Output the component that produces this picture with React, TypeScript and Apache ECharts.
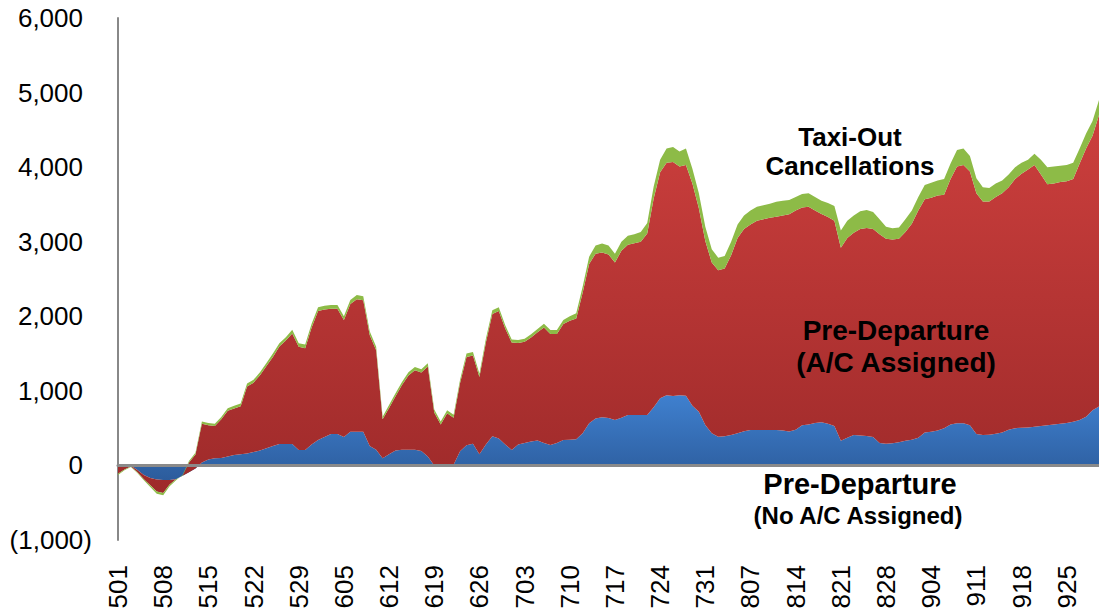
import React, { useEffect, useRef } from "react";
import * as echarts from "echarts";

const FONT = '"Liberation Sans", Arial, Helvetica, sans-serif';

// Categories: daily dates May 1 .. Sep 30 shown as "mdd"
const MONTHS = [5, 6, 7, 8, 9];
const MONTH_DAYS = [31, 30, 31, 31, 30];
const categories: string[] = [];
MONTHS.forEach((m, k) => {
  for (let d = 1; d <= MONTH_DAYS[k]; d++) categories.push(`${m}${d < 10 ? "0" + d : d}`);
});

const Y_MIN = -1000;
const Y_MAX = 6000;
const Y_STEP = 1000;

// Pre-Departure (No A/C Assigned)
const preDepNoAC = [
  0, 0, -5, -60, -130, -170, -190, -195, -195, -185, -140, -90, -40, 40, 80,
  95, 100, 120, 140, 150, 160, 180, 200, 230, 260, 288, 288, 288, 208, 208, 280,
  340, 380, 420, 420, 380, 450, 453, 453, 260, 210, 96, 150, 200, 210, 210, 210, 195, 120, 0, 0,
  20, 10, 190, 270, 290, 150, 280, 390, 360, 280,
  208, 280, 300, 320, 333, 300, 275, 300, 342, 345, 350, 430, 565, 630, 646, 635, 610, 640, 677, 677,
  677, 677, 780, 900, 940, 930, 940, 935, 800, 720, 543,
  430, 386, 390, 409, 430, 460, 476, 476, 476, 476, 476, 470, 455, 480, 540, 550, 570, 580, 560, 530,
  330, 370, 409, 400, 395, 380, 300, 290, 297, 310, 330,
  345, 370, 440, 450, 470, 498, 550, 565, 565, 540, 420, 409, 410, 425, 440, 480, 500, 505, 510, 520,
  530, 540, 550, 560, 570, 587, 610, 654, 740, 790,
];

// Pre-Departure (A/C Assigned)
const preDepAC = [
  -112, -55, -10, -30, -55, -95, -160, -175, -60, 0, 0, 130, 185, 520, 460,
  435, 520, 612, 625, 645, 900, 930, 1010, 1104, 1195, 1307, 1387, 1482, 1382, 1362, 1570,
  1730, 1710, 1680, 1680, 1570, 1715, 1777, 1762, 1490, 1335, 523, 620, 728, 870, 995, 1065, 1050, 1205, 710, 550,
  680, 630, 915, 1185, 1185, 1035, 1370, 1640, 1710, 1555,
  1442, 1362, 1360, 1395, 1452, 1550, 1486, 1461, 1553, 1595, 1620, 1890, 2135, 2210, 2209, 2195, 2110, 2240, 2283, 2303,
  2323, 2433, 2800, 3030, 3120, 3140, 3070, 3095, 2980, 2730, 2467,
  2290, 2230, 2250, 2411, 2620, 2710, 2754, 2804, 2824, 2844, 2860, 2880, 2914, 2940, 2920, 2920, 2850, 2790, 2770, 2750,
  2590, 2680, 2711, 2770, 2790, 2790, 2800, 2750, 2733, 2730, 2800,
  2895, 3050, 3130, 3140, 3150, 3132, 3290, 3445, 3465, 3400, 3230, 3131, 3130, 3175, 3210, 3250, 3340, 3405, 3460, 3510,
  3370, 3230, 3230, 3240, 3240, 3253, 3440, 3596, 3680, 3910,
];

// Taxi-Out Cancellations
const taxiOut = [
  -15, -10, -5, -10, -15, -25, -30, -30, -25, -15, 10, 20, 25, 30, 30,
  30, 30, 35, 35, 35, 40, 40, 40, 40, 45, 45, 45, 50, 50, 50, 50,
  50, 50, 50, 50, 50, 55, 55, 55, 50, 45, 35, 40, 40, 40, 45, 45, 45, 45, 40, 40,
  40, 40, 45, 45, 45, 45, 50, 50, 50, 45,
  40, 40, 40, 45, 45, 50, 55, 55, 55, 60, 70, 80, 100, 110, 120, 120, 120, 120, 120, 120,
  130, 140, 160, 170, 190, 200, 200, 220, 200, 200, 190,
  180, 170, 170, 180, 180, 180, 190, 190, 190, 190, 200, 200, 190, 180, 180, 180, 180, 180, 190, 200,
  230, 230, 230, 240, 240, 230, 200, 160, 150, 150, 170,
  180, 180, 190, 200, 200, 210, 210, 220, 220, 210, 200, 190, 180, 180, 170, 170, 160, 150, 130, 150,
  200, 230, 230, 220, 220, 220, 200, 200, 200, 200,
];

const fmt = (n: number) => String(n).replace(/\B(?=(\d{3})+(?!\d))/g, ",");

export default function App() {
  const ref = useRef<HTMLDivElement>(null);

  useEffect(() => {
    if (!ref.current) return;
    const chart = echarts.init(ref.current, null, { renderer: "svg" });
    const lg = (a: string, b: string) =>
      new echarts.graphic.LinearGradient(0, 0, 0, 1, [
        { offset: 0, color: a },
        { offset: 1, color: b },
      ]);
    const areaSeries = (name: string, data: number[], fill: any) => ({
      name,
      type: "line",
      stack: "total",
      stackStrategy: "all",
      xAxisIndex: 0,
      yAxisIndex: 0,
      data,
      symbol: "none",
      showSymbol: false,
      smooth: false,
      lineStyle: { width: 0 },
      areaStyle: { color: fill, opacity: 1 },
      emphasis: { disabled: true },
    });
    const label = (text: string, x: number, y: number, fontSize: number, lineHeight?: number) => ({
      type: "text",
      x,
      y,
      z: 100,
      style: {
        text,
        textAlign: "center",
        textVerticalAlign: "middle",
        fontSize,
        fontWeight: "bold",
        fontFamily: FONT,
        lineHeight: lineHeight || fontSize,
        fill: "#000",
      },
    });

    chart.setOption({
      animation: false,
      backgroundColor: "#ffffff",
      grid: { left: 118, right: -3, top: 18, bottom: 74, containLabel: false },
      xAxis: [
        {
          type: "category",
          data: categories,
          boundaryGap: false,
          position: "bottom",
          axisLine: { show: false, onZero: false },
          axisTick: { show: false },
          splitLine: { show: false },
          axisLabel: {
            interval: 6,
            rotate: 90,
            margin: 25,
            fontSize: 26,
            fontFamily: FONT,
            color: "#000",
          },
        },
        {
          // zero baseline
          type: "category",
          data: categories,
          boundaryGap: false,
          position: "top",
          z: 20,
          axisLine: { show: true, onZero: true, lineStyle: { color: "#8a8a8a", width: 3 } },
          axisTick: { show: false },
          axisLabel: { show: false },
          splitLine: { show: false },
        },
      ],
      yAxis: {
        type: "value",
        min: Y_MIN,
        max: Y_MAX,
        interval: Y_STEP,
        axisLine: { show: true, onZero: false, lineStyle: { color: "#888888", width: 2 } },
        axisTick: { show: false },
        splitLine: { show: false },
        axisLabel: {
          margin: 26,
          formatter: (v: number) => (v < 0 ? `{n|(${fmt(-v)})}` : `{p|${fmt(v)}}`),
          rich: {
            n: { fontSize: 26, fontFamily: FONT, color: "#000" },
            p: { fontSize: 26, fontFamily: FONT, color: "#000", padding: [0, 9, 0, 0] },
          },
        },
      },
      series: [
        areaSeries("Pre-Departure (No A/C Assigned)", preDepNoAC, lg("#3F80CF", "#2C5C9C")),
        areaSeries("Pre-Departure (A/C Assigned)", preDepAC, lg("#CC3F3D", "#9E2A2A")),
        areaSeries("Taxi-Out Cancellations", taxiOut, "#8DBB47"),
      ],
      graphic: {
        elements: [
          label("Taxi-Out\nCancellations", 850, 151, 26, 29),
          label("Pre-Departure\n(A/C Assigned)", 896, 346, 28, 32),
          label("Pre-Departure", 860, 484, 29),
          label("(No A/C Assigned)", 858, 515, 24),
        ],
      },
    });
    return () => chart.dispose();
  }, []);

  return (
    <div
      ref={ref}
      style={{ position: "fixed", left: 0, top: 0, width: 1099, height: 614, background: "#fff" }}
    />
  );
}
